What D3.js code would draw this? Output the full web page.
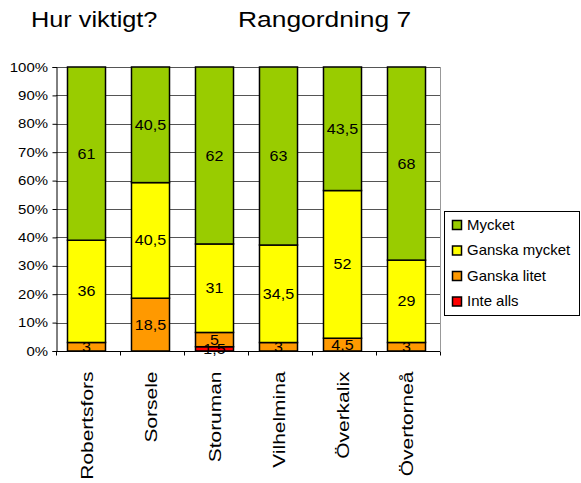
<!DOCTYPE html>
<html><head><meta charset="utf-8">
<script src="https://cdn.jsdelivr.net/npm/d3@7"></script>
<style>body{margin:0;background:#fff}svg{display:block;font-family:"Liberation Sans",Arial,sans-serif}</style>
</head><body><svg id="c" width="581" height="483"></svg>
<script>
const categories = ["Robertsfors","Sorsele","Storuman","Vilhelmina","Överkalix","Övertorneå"];
const inteAlls     = [0, 0, 1.5, 0, 0, 0];
const ganskaLitet  = [3, 18.5, 5, 3, 4.5, 3];
const ganskaMycket = [36, 40.5, 31, 34.5, 52, 29];
const mycket       = [61, 40.5, 62, 63, 43.5, 68];
const seriesNames  = ["Inte alls","Ganska litet","Ganska mycket","Mycket"];
const seriesColors = ["#FF0000","#FF9900","#FFFF00","#99CC00"];
const yTicks = [0,0.1,0.2,0.3,0.4,0.5,0.6,0.7,0.8,0.9,1];

const svg = d3.select("#c");
const L = 56, R = 440, T = 67, B = 351;
const keys = ["inte","litet","gmycket","mycket"];
const rows = categories.map((c,i)=>({cat:c, inte:inteAlls[i], litet:ganskaLitet[i], gmycket:ganskaMycket[i], mycket:mycket[i]}));
const stack = d3.stack().keys(keys).offset(d3.stackOffsetExpand)(rows);

const x = d3.scaleBand().domain(categories).range([L,R]).paddingInner(0.406).paddingOuter(0.203);
const y = d3.scaleLinear().domain([0,1]).range([B,T]);

// titles
svg.append("text").attr("transform","translate(31,27) scale(1.15,1)").attr("font-size",22).text("Hur viktigt?");
svg.append("text").attr("transform","translate(238,27) scale(1.2,1)").attr("font-size",22).text("Rangordning 7");

// gridlines
svg.append("g").selectAll("line").data(yTicks).join("line")
  .attr("x1",L).attr("x2",R).attr("y1",d=>Math.round(y(d))+0.5).attr("y2",d=>Math.round(y(d))+0.5)
  .attr("stroke","#555").attr("stroke-width",1);
svg.append("line").attr("x1",R+0.5).attr("x2",R+0.5).attr("y1",T).attr("y2",B).attr("stroke","#999");

// y axis
const ya = svg.append("g").attr("transform",`translate(${L+0.5},0)`)
  .call(d3.axisLeft(y).tickValues(yTicks).tickFormat(d3.format(".0%")).tickSize(4).tickPadding(3));
ya.select(".domain").attr("stroke","#000");
ya.selectAll(".tick line").attr("stroke","#000");
ya.selectAll("text").attr("font-size",13).attr("font-family","Liberation Sans, Arial, sans-serif").attr("fill","#000")
  .attr("x",null).attr("transform","translate(-8.5,0) scale(1.15,1)");

// bars
const g = svg.append("g");
stack.forEach((s,si)=>{
  g.append("g").selectAll("rect").data(s).join("rect")
    .attr("x",d=>x(d.data.cat)-1.5).attr("width",x.bandwidth())
    .attr("y",d=>y(d[1])).attr("height",d=>Math.max(0,y(d[0])-y(d[1])))
    .attr("fill",seriesColors[si]).attr("stroke","#000").attr("stroke-width",1.5)
    .attr("display",d=>(d[1]-d[0])>0?null:"none");
});
// labels
stack.forEach((s,si)=>{
  g.append("g").selectAll("text").data(s.filter(d=>d[1]-d[0]>0)).join("text")
    .attr("transform",d=>`translate(${x(d.data.cat)-1.5+x.bandwidth()/2},${(y(d[0])+y(d[1]))/2}) scale(1.15,1)`)
    .attr("text-anchor","middle").attr("dy","0.36em").attr("font-size",14)
    .text(d=>String(d.data[keys[si]]).replace(".",","));
});

// x axis
const xa = svg.append("g").attr("transform",`translate(0,${B+0.5})`);
xa.append("line").attr("x1",L).attr("x2",R).attr("stroke","#000");
xa.selectAll(".tk").data(d3.range(categories.length+1)).join("line")
  .attr("x1",i=>L+0.5+i*x.step()).attr("x2",i=>L+0.5+i*x.step()).attr("y1",0).attr("y2",4).attr("stroke","#000");
xa.selectAll("text").data(categories).join("text")
  .attr("transform",d=>`translate(${x(d)-1.5+x.bandwidth()/2+6},20) rotate(-90) scale(1.27,1)`)
  .attr("text-anchor","end").attr("font-size",16.5).text(d=>d);

// legend
const lg = svg.append("g");
lg.append("rect").attr("x",444.5).attr("y",211.5).attr("width",135).attr("height",104).attr("fill","#fff").attr("stroke","#000");
const order = [3,2,1,0];
order.forEach((si,k)=>{
  const yy = 225 + k*25.5;
  lg.append("rect").attr("x",452.5).attr("y",yy-4.5).attr("width",9).attr("height",9).attr("fill",seriesColors[si]).attr("stroke","#000").attr("stroke-width",1.5);
  lg.append("text").attr("transform",`translate(467,${yy}) scale(1.07,1)`).attr("dy","0.35em").attr("font-size",14).text(seriesNames[si]);
});
</script></body></html>
